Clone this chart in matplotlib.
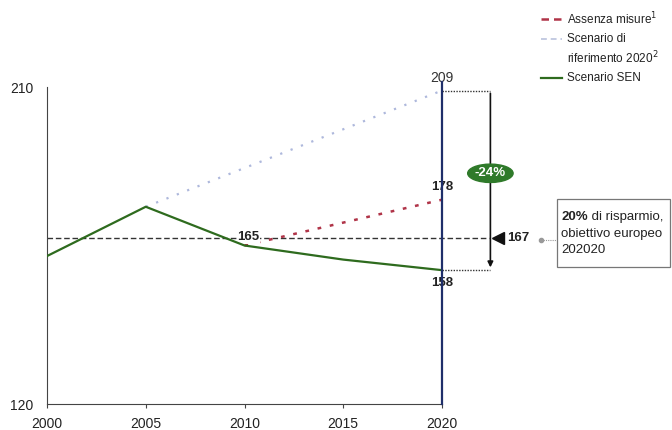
import matplotlib
matplotlib.use("Agg")
import matplotlib.pyplot as plt
from matplotlib.patches import Ellipse, Rectangle
from matplotlib.lines import Line2D

plt.rcParams['font.family'] = ['Liberation Sans', 'DejaVu Sans']

# Consumo primario (Mtep)
years_sen = [2000, 2005, 2010, 2015, 2020]
sen = [162, 176, 165, 161, 158]
years_assenza = [2010, 2020]
assenza = [165, 178]
years_rif = [2005, 2020]
riferimento = [176, 209]
obiettivo = 167
ytick_vals = [120, 210]
xtick_vals = [2000, 2005, 2010, 2015, 2020]

fig = plt.figure(figsize=(6.72, 4.30), dpi=100)
ax = fig.add_axes([47/672, 1-404/430, 395/672, 317/430])
ax.set_xlim(2000, 2020)
ax.set_ylim(120, 210)

for s in ['top', 'right']:
    ax.spines[s].set_visible(False)
ax.spines['left'].set_color('#444444')
ax.spines['bottom'].set_color('#444444')
ax.set_xticks(xtick_vals)
ax.set_yticks(ytick_vals)
ax.tick_params(axis='x', length=3, labelsize=10, pad=6, color='#444444',
               labelcolor='#222222')
ax.tick_params(axis='y', length=0, labelsize=10, pad=10, labelcolor='#222222')

x_arrow = 2022.45
x_dash_end = 2022.4

# Linea obiettivo europeo
ax.plot([2000, x_dash_end], [obiettivo, obiettivo], ls=(0, (4, 2)), color='#333333',
        lw=1.0, clip_on=False, zorder=2)

# Scenari
ax.plot(years_rif, riferimento, ls=(0, (1, 4)), color='#aeb8dc', lw=1.6, zorder=3)
ax.plot(years_assenza, assenza, ls=(0, (1.5, 3.5)), color='#b03448', lw=1.8, zorder=3)
ax.plot(years_sen, sen, color='#2e6b1e', lw=1.6, zorder=4)

# Linea verticale 2020
ax.plot([2020, 2020], [120, 211.3], color='#1f2f6a', lw=1.6, clip_on=False, zorder=5)

# Riquadro della riduzione
ax.plot([2020, x_arrow], [riferimento[1], riferimento[1]], ls=(0, (1, 1)), color='#333333',
        lw=1.0, clip_on=False)
ax.plot([2020, x_arrow], [sen[-1], sen[-1]], ls=(0, (1, 1)), color='#333333',
        lw=1.0, clip_on=False)
ax.annotate('', xy=(x_arrow, sen[-1]), xytext=(x_arrow, riferimento[1]),
            arrowprops=dict(arrowstyle='-|>', color='#111111', lw=1.2, mutation_scale=8),
            annotation_clip=False)
ell = Ellipse((x_arrow, 185.5), 2.3, 5.2, color='#2f7a2a', clip_on=False, zorder=6)
ax.add_patch(ell)
ax.text(x_arrow, 185.5, '-24%', color='white', fontsize=9.5, fontweight='bold',
        ha='center', va='center', zorder=7, clip_on=False)

# Etichette di valore
ax.text(2020, riferimento[1] + 1.6, f'{riferimento[1]}', ha='center', va='bottom',
        fontsize=10, color='#333333')
ax.text(2020, assenza[1] + 2.0, f'{assenza[1]}', ha='center', va='bottom',
        fontsize=9.5, fontweight='bold', color='#222222',
        bbox=dict(facecolor='white', edgecolor='none', pad=0.5))
ax.text(2020, sen[-1] - 2.0, f'{sen[-1]}', ha='center', va='top',
        fontsize=9.5, fontweight='bold', color='#222222')
ax.text(2010.2, obiettivo + 0.3, f'{assenza[0]}', ha='center', va='center',
        fontsize=9.5, fontweight='bold', color='#222222',
        bbox=dict(facecolor='white', edgecolor='none', pad=0.3))

# Obiettivo 167
ax.plot([2022.85], [obiettivo], marker='<', color='#111111', markersize=8,
        clip_on=False)
ax.text(2023.3, obiettivo, f'{obiettivo}', ha='left', va='center', fontsize=9.5,
        fontweight='bold', color='#222222')
ax.plot([2025.0, 2025.75], [obiettivo - 0.3, obiettivo - 0.3], color='#999999', lw=0.8,
        ls=(0, (1, 1)), clip_on=False)
ax.plot([2025.0], [obiettivo - 0.3], marker='o', color='#999999', markersize=3,
        clip_on=False)

# Riquadro testo
box = Rectangle((557/672, 1-267/430), 113/672, 68/430, transform=fig.transFigure,
                facecolor='white', edgecolor='#777777', lw=0.9)
fig.patches.append(box)
t_bold = fig.text(561/672, 1-217/430, '20%', fontsize=9.5, fontweight='bold',
                  color='#222222', va='center', ha='left')
fig.canvas.draw()
bb = t_bold.get_window_extent()
fig.text(bb.x1 / fig.bbox.width, 1-217/430, ' di risparmio,', fontsize=9.5,
         color='#222222', va='center', ha='left')
fig.text(561/672, 1-234/430, 'obiettivo europeo', fontsize=9.5, color='#222222',
         va='center', ha='left')
fig.text(561/672, 1-250/430, '202020', fontsize=9.5, color='#222222',
         va='center', ha='left')

# Legenda
leg_x0, leg_x1, leg_tx = 541/672, 562/672, 567/672
def legend_row(y_px, style, color, lw):
    fig.lines.append(Line2D([leg_x0, leg_x1], [1-y_px/430, 1-y_px/430], ls=style,
                            color=color, lw=lw, transform=fig.transFigure))

legend_row(19, (0, (3, 2)), '#b03448', 1.8)
fig.text(leg_tx, 1-19/430, 'Assenza misure$^{1}$', fontsize=8.5, color='#222222',
         va='center', ha='left')
legend_row(39, (0, (3, 2)), '#c4cbe2', 1.4)
fig.text(leg_tx, 1-39/430, 'Scenario di', fontsize=8.5, color='#222222',
         va='center', ha='left')
fig.text(leg_tx, 1-58/430, 'riferimento 2020$^{2}$', fontsize=8.5, color='#222222',
         va='center', ha='left')
legend_row(78, '-', '#2e6b1e', 1.6)
fig.text(leg_tx, 1-78/430, 'Scenario SEN', fontsize=8.5, color='#222222',
         va='center', ha='left')

fig.savefig('out.png', dpi=100)
